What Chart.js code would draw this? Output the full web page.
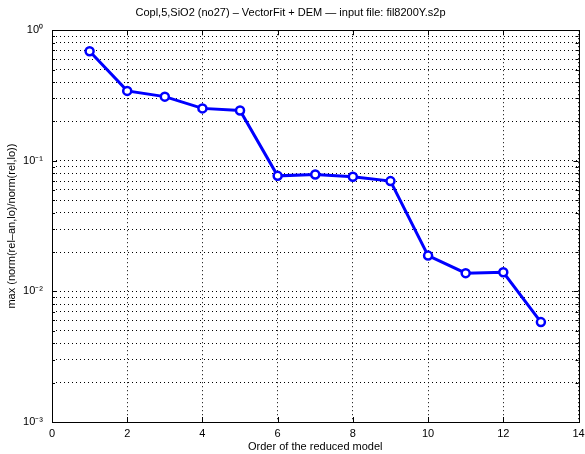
<!DOCTYPE html>
<html>
<head>
<meta charset="utf-8">
<script src="https://cdn.jsdelivr.net/npm/chart.js@4/dist/chart.umd.min.js"></script>
<style>
  html, body { margin: 0; padding: 0; background: #fff; }
  #wrap { width: 585px; height: 454px; }
</style>
</head>
<body>
<div id="wrap"><canvas id="orderChart"></canvas></div>
<script>
// model order vs. max relative error (log axis)
const orders = [1, 2, 3, 4, 5, 6, 7, 8, 9, 10, 11, 12, 13];
const maxRelErr = [0.69, 0.343, 0.31, 0.252, 0.243, 0.0767, 0.0786, 0.0755, 0.0699, 0.0188, 0.0138, 0.0140, 0.00582];

const xTicks = [0, 2, 4, 6, 8, 10, 12, 14];
const yDecades = [0.001, 0.01, 0.1, 1];
const yDecadeLabels = ['10\u207B\u00B3', '10\u207B\u00B2', '10\u207B\u00B9', '10\u2070'];
const minorFactors = [2, 3, 4, 5, 6, 7, 8, 9];

const titleText = 'Copl,5,SiO2 (no27) \u2013 VectorFit + DEM \u2014 input file: fil8200Y.s2p';
const xTitle = 'Order of the reduced model';
const yTitle = 'max (norm(rel\u2013an,lo)/norm(rel,lo))';

const matBlue = '#0000ff';
const fam = 'Liberation Sans, Arial, sans-serif';
const font = { family: fam, size: 11, weight: 'normal' };

// decade + minor tick values for the log axis
const yTickVals = [];
yDecades.forEach(function (d, i) {
  yTickVals.push(d);
  if (i < yDecades.length - 1) minorFactors.forEach(f => yTickVals.push(d * f));
});

// frame and inward tick marks, matlab style
const framePlugin = {
  id: 'frame',
  afterDatasetsDraw(chart) {
    const { ctx, chartArea: a, scales } = chart;
    ctx.save();
    ctx.strokeStyle = '#000';
    ctx.lineWidth = 1;
    ctx.beginPath();
    xTicks.forEach(v => {
      const px = Math.round(scales.x.getPixelForValue(v)) + 0.5;
      ctx.moveTo(px, a.bottom); ctx.lineTo(px, a.bottom - 5);
      ctx.moveTo(px, a.top); ctx.lineTo(px, a.top + 5);
    });
    yTickVals.forEach(v => {
      const py = Math.round(scales.y.getPixelForValue(v)) + 0.5;
      const len = yDecades.includes(v) ? 5 : 3;
      ctx.moveTo(a.left, py); ctx.lineTo(a.left + len, py);
      ctx.moveTo(a.right, py); ctx.lineTo(a.right - len, py);
    });
    ctx.stroke();
    ctx.strokeRect(Math.round(a.left) + 0.5, Math.round(a.top) + 0.5,
      Math.round(a.right - a.left), Math.round(a.bottom - a.top));
    ctx.restore();
  }
};

new Chart(document.getElementById('orderChart'), {
  type: 'line',
  data: {
    labels: orders,
    datasets: [{
      data: orders.map((o, i) => ({ x: o, y: maxRelErr[i] })),
      borderColor: matBlue,
      borderWidth: 3,
      pointRadius: 4,
      pointBorderWidth: 2.5,
      pointBackgroundColor: '#fff',
      pointBorderColor: matBlue,
      tension: 0
    }]
  },
  options: {
    responsive: true,
    maintainAspectRatio: false,
    animation: false,
    layout: { padding: { left: 0, right: 4, top: 0, bottom: 0 } },
    plugins: {
      legend: { display: false },
      tooltip: { enabled: false },
      title: {
        display: true,
        text: titleText,
        color: '#000',
        font: font,
        padding: { top: 6, bottom: 11 }
      }
    },
    scales: {
      x: {
        type: 'linear',
        min: 0,
        max: 14,
        afterBuildTicks: s => { s.ticks = xTicks.map(v => ({ value: v })); },
        afterFit: s => { s.height = 32; s.paddingLeft = 0; s.paddingRight = 0; },
        grid: { color: '#000', lineWidth: 1, drawTicks: false },
        border: { display: false, dash: [1, 3] },
        ticks: { color: '#000', font: font, padding: 5, maxRotation: 0 },
        title: { display: true, text: xTitle, color: '#000', font: font, padding: { top: 0, bottom: 0 } }
      },
      y: {
        type: 'logarithmic',
        min: 0.001,
        max: 1,
        afterBuildTicks: s => { s.ticks = yTickVals.map(v => ({ value: v })); },
        afterFit: s => { s.width = 52; s.paddingTop = 0; s.paddingBottom = 0; },
        grid: { color: '#000', lineWidth: 1, drawTicks: false },
        border: { display: false, dash: [1, 3] },
        ticks: {
          color: '#000',
          font: font,
          padding: 9,
          autoSkip: false,
          callback: v => {
            const i = yDecades.findIndex(d => Math.abs(d - v) < d * 1e-6);
            return i >= 0 ? yDecadeLabels[i] : '';
          }
        },
        title: { display: true, text: yTitle, color: '#000', font: font, padding: { top: 5, bottom: 0 } }
      }
    }
  },
  plugins: [framePlugin]
});
</script>
</body>
</html>
